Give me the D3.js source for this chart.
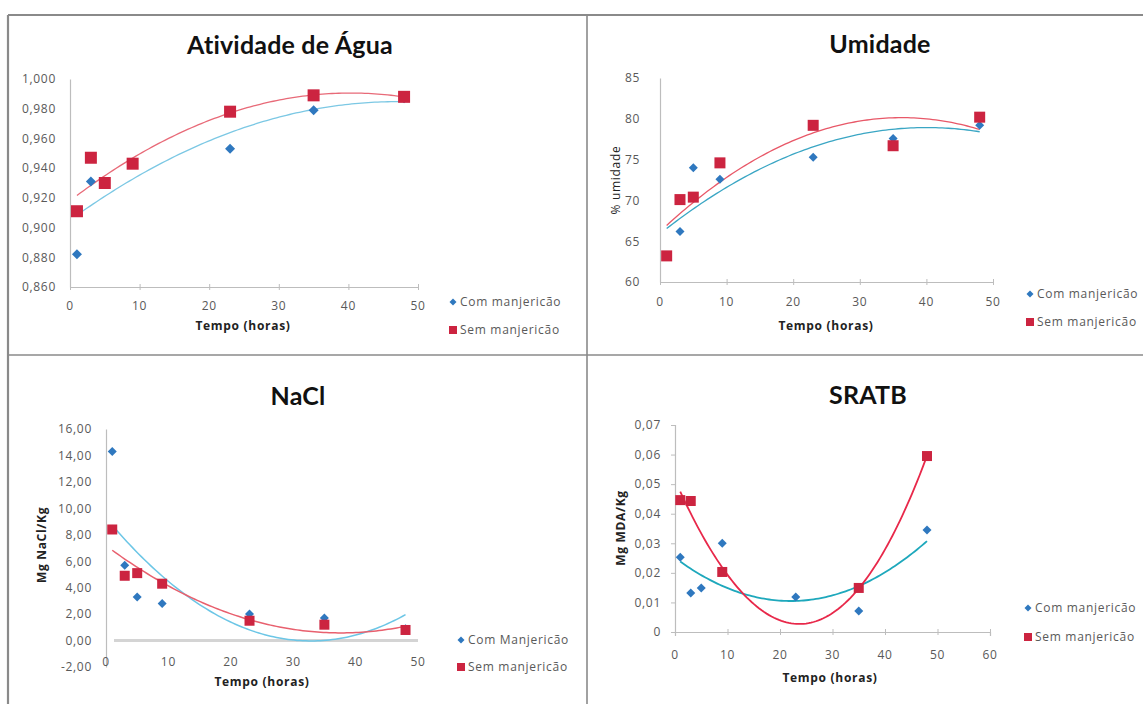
<!DOCTYPE html>
<html><head><meta charset="utf-8">
<script src="https://cdn.jsdelivr.net/npm/d3@7/dist/d3.min.js"></script>
<style>
html,body{margin:0;padding:0;background:#fff;}
svg{display:block;font-family:"Open Sans",Lato,sans-serif;}
.sm{font-family:"Open Sans",sans-serif;font-size:12px;letter-spacing:0.7px;}
</style></head>
<body>
<svg id="c" width="1143" height="704"></svg>
<script>
// ---- data ----
const tempo = [1, 3, 5, 9, 23, 35, 48];
const aguaCom = [0.882, 0.931, 0.930, 0.943, 0.953, 0.979, 0.987];
const aguaSem = [0.911, 0.947, 0.930, 0.943, 0.978, 0.989, 0.988];
const umidCom = [63.2, 66.2, 74.0, 72.6, 75.3, 77.6, 79.2];
const umidSem = [63.2, 70.1, 70.4, 74.6, 79.2, 76.7, 80.2];
const naclCom = [14.3, 5.7, 3.3, 2.8, 2.0, 1.7, 0.9];
const naclSem = [8.4, 4.9, 5.1, 4.3, 1.5, 1.2, 0.8];
const sratbCom = [0.0253, 0.0132, 0.0149, 0.030, 0.0118, 0.0071, 0.0345];
const sratbSem = [0.0446, 0.0443, null, 0.0203, null, 0.0149, 0.0595];

const titles = ["Atividade de Água", "Umidade", "NaCl", "SRATB"];
const yTitles = ["", "% umidade", "Mg NaCl/Kg", "Mg MDA/Kg"];
const xTitle = "Tempo (horas)";
const legendCom = ["Com manjericão", "Com manjericão", "Com Manjericão", "Com manjericão"];
const legendSem = ["Sem manjericão", "Sem manjericão", "Sem manjericão", "Sem manjericão"];
const xTicks50 = [0, 10, 20, 30, 40, 50];
const xTicks60 = [0, 10, 20, 30, 40, 50, 60];
const yTicksAgua = [0.86, 0.88, 0.90, 0.92, 0.94, 0.96, 0.98, 1.00];
const yTicksUmid = [60, 65, 70, 75, 80, 85];
const yTicksNacl = [-2, 0, 2, 4, 6, 8, 10, 12, 14, 16];
const yTicksSratb = [0, 0.01, 0.02, 0.03, 0.04, 0.05, 0.06, 0.07];

// ---- layout ----
const panels = [
  {title: titles[0], tx: 290, ty: 54, com: aguaCom, sem: aguaSem, ordCom: 2, ordSem: 2,
   xd: [0, 50], xr: [70, 418], yd: [0.86, 1.0], yr: [287, 79], xt: xTicks50, yt: yTicksAgua,
   fmt: v => d3.format(".3f")(v).replace(".", ","), xAxisY: 287, xLabY: 306, xTitleX: 243, xTitleY: 330,
   yTitle: yTitles[0], legX: 453, legY: [302, 330], sq: 12, di: 10, ticks: false,
   tcCom: "#7cc8e4", tcSem: "#e86a78", tw: 1.3},
  {title: titles[1], tx: 880, ty: 53, com: umidCom, sem: umidSem, ordCom: 2, ordSem: 2,
   xd: [0, 50], xr: [660, 993], yd: [60, 85], yr: [282, 78], xt: xTicks50, yt: yTicksUmid,
   fmt: v => String(v), xAxisY: 282, xLabY: 302, xTitleX: 826, xTitleY: 330, ylOff: 20,
   yTitle: yTitles[1], yTitleX: 620, yTitleY: 180, legX: 1030, legY: [294, 322], sq: 11, di: 9, ticks: false,
   tcCom: "#3aa6c4", tcSem: "#e85868", tw: 1.3},
  {title: titles[2], tx: 298, ty: 405, com: naclCom, sem: naclSem, ordCom: 2, ordSem: 2,
   xd: [0, 50], xr: [106, 418], yd: [-2, 16], yr: [667, 429], xt: xTicks50, yt: yTicksNacl,
   fmt: v => d3.format(".2f")(v).replace(".", ",").replace("−", "-"), xAxisY: null, xLabY: 662, xTitleX: 262, xTitleY: 686,
   yTitle: yTitles[2], yTitleX: 46, yTitleY: 545, legX: 461, legY: [640, 667], sq: 10, di: 9, ticks: false,
   tcCom: "#6cc6e6", tcSem: "#e8606e", tw: 1.5},
  {title: titles[3], tx: 868, ty: 404, com: sratbCom, sem: sratbSem, ordCom: 2, ordSem: 3,
   xd: [0, 60], xr: [675, 990], yd: [0, 0.07], yr: [632, 425], xt: xTicks60, yt: yTicksSratb,
   fmt: v => v === 0 ? "0" : d3.format(".2f")(v).replace(".", ","), xAxisY: 632, xLabY: 655, xTitleX: 830, xTitleY: 682,
   yTitle: yTitles[3], yTitleX: 625, yTitleY: 528, legX: 1028, legY: [608, 637], sq: 10, di: 9, ticks: true,
   tcCom: "#1ea8bc", tcSem: "#e8284a", tw: 1.8}
];

const svg = d3.select("#c");
const BLUE = "#2f78bf", RED = "#cc2440";

// table borders
const bc = "#8a8a8a";
svg.append("line").attr("x1", 8).attr("x2", 1143).attr("y1", 15).attr("y2", 15).attr("stroke", bc).attr("stroke-width", 2.2);
svg.append("line").attr("x1", 8).attr("x2", 8).attr("y1", 15).attr("y2", 704).attr("stroke", bc).attr("stroke-width", 2.2);
svg.append("line").attr("x1", 587).attr("x2", 587).attr("y1", 15).attr("y2", 704).attr("stroke", bc).attr("stroke-width", 1.6);
svg.append("line").attr("x1", 8).attr("x2", 1143).attr("y1", 355).attr("y2", 355).attr("stroke", bc).attr("stroke-width", 1.6);

function polyfit(xs, ys, order) {
  const n = order + 1;
  const A = Array.from({length: n}, () => new Array(n + 1).fill(0));
  xs.forEach((x, k) => {
    for (let i = 0; i < n; i++) {
      for (let j = 0; j < n; j++) A[i][j] += Math.pow(x, i + j);
      A[i][n] += ys[k] * Math.pow(x, i);
    }
  });
  for (let i = 0; i < n; i++) {
    let p = i;
    for (let r = i + 1; r < n; r++) if (Math.abs(A[r][i]) > Math.abs(A[p][i])) p = r;
    [A[i], A[p]] = [A[p], A[i]];
    for (let r = 0; r < n; r++) {
      if (r === i) continue;
      const f = A[r][i] / A[i][i];
      for (let c = i; c <= n; c++) A[r][c] -= f * A[i][c];
    }
  }
  const coef = A.map((row, i) => row[n] / row[i]);
  return x => coef.reduce((s, c, i) => s + c * Math.pow(x, i), 0);
}

const diamond = s => `M0,${-s/2}L${s/2},0L0,${s/2}L${-s/2},0Z`;

panels.forEach((p, pi) => {
  const g = svg.append("g");
  const x = d3.scaleLinear().domain(p.xd).range(p.xr);
  const y = d3.scaleLinear().domain(p.yd).range(p.yr);
  const axisC = "#bdbdbd", txtC = "#595959";

  // title
  g.append("text").attr("x", p.tx).attr("y", p.ty).attr("text-anchor", "middle")
    .attr("font-family", "Lato, sans-serif").attr("font-size", 25).attr("letter-spacing", 0.2)
    .attr("font-weight", "bold").attr("fill", "#111").text(p.title);

  // y axis
  const ya = d3.axisLeft(y).tickValues(p.yt).tickFormat(p.fmt).tickSize(p.ticks ? 4 : 0).tickPadding(p.ticks ? 10 : (p.ylOff || 14));
  const yg = g.append("g").attr("transform", `translate(${p.xr[0]},0)`).call(ya);
  yg.attr("font-family", null).attr("font-size", null);
  yg.select(".domain").attr("stroke", axisC).attr("stroke-width", 1.2);
  yg.selectAll(".tick line").attr("stroke", axisC);
  yg.selectAll("text").attr("class", "sm").attr("fill", txtC);

  // x axis
  if (p.xAxisY !== null) {
    const xa = d3.axisBottom(x).tickValues(p.xt).tickFormat(d3.format("d")).tickSize(p.ticks ? 4 : 0).tickPadding(0);
    const xg = g.append("g").attr("transform", `translate(0,${p.xAxisY})`).call(xa);
    xg.select(".domain").attr("stroke", axisC).attr("stroke-width", 1.2);
    xg.selectAll(".tick line").attr("stroke", axisC).attr("y1", -3).attr("y2", 3);
    xg.selectAll("text").remove();
  } else {
    g.append("line").attr("x1", x(p.xd[0]) + 8).attr("x2", x(p.xd[1])).attr("y1", y(0)).attr("y2", y(0))
      .attr("stroke", "#d4d4d4").attr("stroke-width", 3);
  }
  g.selectAll(".xl").data(p.xt).join("text").attr("class", "sm")
    .attr("x", d => x(d)).attr("y", p.xLabY).attr("dy", "0.35em").attr("text-anchor", "middle")
    .attr("fill", txtC).text(d => d);

  // axis titles
  g.append("text").attr("class", "sm").attr("x", p.xTitleX).attr("y", p.xTitleY).attr("text-anchor", "middle")
    .attr("font-weight", "bold").attr("fill", "#222").text(xTitle);
  if (p.yTitle) {
    g.append("text").attr("class", "sm").attr("transform", `translate(${p.yTitleX},${p.yTitleY}) rotate(-90)`)
      .attr("text-anchor", "middle").attr("font-weight", p.yTitle.startsWith("%") ? "normal" : "bold")
      .attr("fill", "#222").text(p.yTitle);
  }

  // trendlines
  [[p.com, p.ordCom, p.tcCom], [p.sem, p.ordSem, p.tcSem]].forEach(([vals, ord, col]) => {
    const pts = tempo.map((t, i) => [t, vals[i]]).filter(d => d[1] !== null);
    const f = polyfit(pts.map(d => d[0]), pts.map(d => d[1]), ord);
    const x0 = pts[0][0], x1 = pts[pts.length - 1][0];
    const xsLine = d3.range(0, 101).map(i => x0 + (x1 - x0) * i / 100);
    g.append("path").datum(xsLine).attr("fill", "none").attr("stroke", col).attr("stroke-width", p.tw)
      .attr("d", d3.line().x(d => x(d)).y(d => y(f(d))));
  });

  // markers
  const comPts = tempo.map((t, i) => [t, p.com[i]]).filter(d => d[1] !== null);
  const semPts = tempo.map((t, i) => [t, p.sem[i]]).filter(d => d[1] !== null);
  g.selectAll(".dm").data(comPts).join("path").attr("class", "dm")
    .attr("transform", d => `translate(${x(d[0])},${y(d[1])})`).attr("d", diamond(p.di)).attr("fill", BLUE);
  g.selectAll(".sq").data(semPts).join("rect").attr("class", "sq")
    .attr("x", d => x(d[0]) - p.sq / 2).attr("y", d => y(d[1]) - p.sq / 2)
    .attr("width", p.sq).attr("height", p.sq).attr("fill", RED);

  // legend
  g.append("path").attr("transform", `translate(${p.legX},${p.legY[0]})`).attr("d", diamond(7)).attr("fill", BLUE);
  g.append("rect").attr("x", p.legX - 4).attr("y", p.legY[1] - 4).attr("width", 8).attr("height", 8).attr("fill", RED);
  g.append("text").attr("class", "sm").attr("x", p.legX + 7).attr("y", p.legY[0]).attr("dy", "0.35em").attr("fill", txtC).text(legendCom[pi]);
  g.append("text").attr("class", "sm").attr("x", p.legX + 7).attr("y", p.legY[1]).attr("dy", "0.35em").attr("fill", txtC).text(legendSem[pi]);
});
</script>
</body></html>
